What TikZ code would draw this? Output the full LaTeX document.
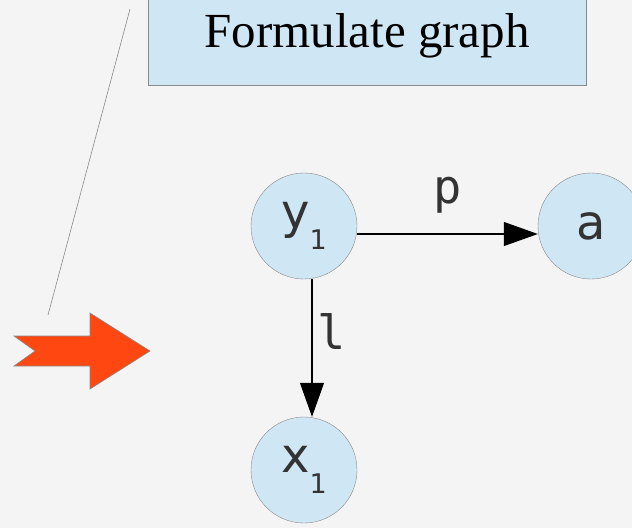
\documentclass[tikz,border=0pt]{standalone}
\usepackage{fontspec}
\setmainfont{Liberation Serif}
\newfontfamily\nodefont{DejaVu Sans}
\newfontfamily\edgefont{DejaVu Sans Mono}
\usetikzlibrary{arrows.meta}
\definecolor{bgcol}{HTML}{F4F4F4}
\definecolor{boxblue}{HTML}{CFE6F4}
\definecolor{rimgray}{HTML}{8A8A8A}
\definecolor{glyphgray}{HTML}{333333}
\definecolor{pointred}{HTML}{FF4711}
\begin{document}
\begin{tikzpicture}[x=1pt, y=-1pt,
    vertex/.style={circle, draw=rimgray, fill=boxblue, minimum size=106pt, inner sep=0pt,
                   text=glyphgray, font=\nodefont\fontsize{48}{48}\selectfont},
    link/.style={-{Triangle[length=34pt,width=24pt]}, line width=1.1pt, black},
    linklabel/.style={text=glyphgray, font=\edgefont\fontsize{47}{47}\selectfont}]
  \useasboundingbox (0,0) rectangle (632,528);
  \clip (0,0) rectangle (632,528);
  \fill[bgcol] (0,0) rectangle (632,528);
  % heading box
  \node[draw=rimgray, fill=boxblue, minimum width=438pt, minimum height=98pt,
        font=\fontsize{49}{49}\selectfont] (title) at (367,36) {Formulate graph};
  \draw[rimgray, line width=0.6pt] (130,9) -- (48,315);
  % pointer
  \draw[rimgray, fill=pointred, line width=0.6pt]
    (14,336) -- (90,336) -- (90,313) -- (150,351) -- (90,389) -- (90,366) -- (14,366) -- (35,351) -- cycle;
  % graph
  \node[vertex] (y1) at (304,226) {y\raisebox{-21pt}{\fontsize{27}{27}\selectfont 1}};
  \node[vertex] (a)  at (591,226) {a};
  \node[vertex] (x1) at (304,470) {x\raisebox{-21pt}{\fontsize{27}{27}\selectfont 1}};
  \draw[link] ([yshift=-8pt]y1.east) -- ([yshift=-8pt]a.west) node[midway, above=17pt, linklabel] {p};
  \draw[link] ([xshift=8pt]y1.south) -- ([xshift=8pt]x1.north) node[pos=0.38, right=2pt, linklabel] {l};
\end{tikzpicture}
\end{document}
